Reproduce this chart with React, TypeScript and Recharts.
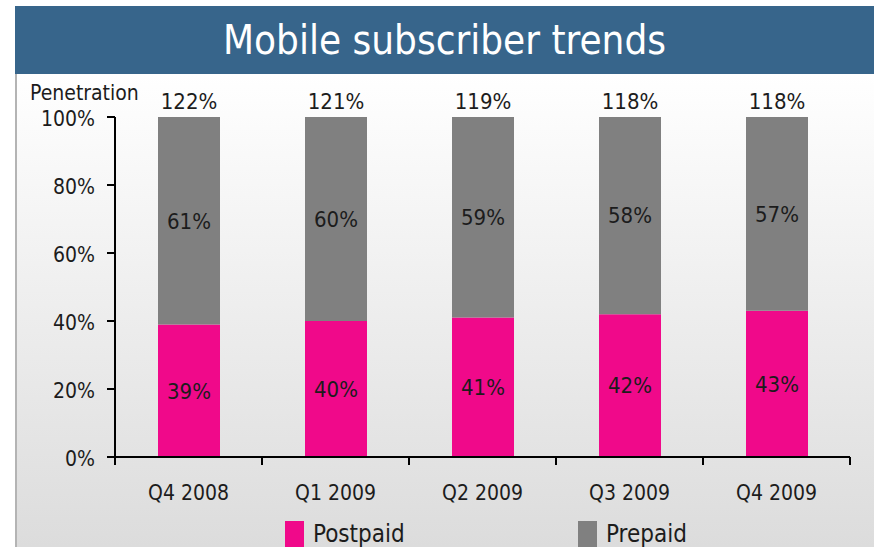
import { BarChart, Bar, XAxis, YAxis, LabelList } from "recharts";

const quarters = ["Q4 2008", "Q1 2009", "Q2 2009", "Q3 2009", "Q4 2009"];
const postpaid = [39, 40, 41, 42, 43];
const prepaid = [61, 60, 59, 58, 57];
const penetration = [122, 121, 119, 118, 118];
const yTicks = [0, 20, 40, 60, 80, 100];

const FONT = '"DejaVu Sans Condensed", "DejaVu Sans", sans-serif';
const PINK = "#f0098a";
const GREY = "#808080";
const INK = "#1c1c1c";

const rows = quarters.map((q, i) => ({
  quarter: q,
  postpaid: postpaid[i],
  prepaid: prepaid[i],
  penetration: penetration[i],
}));

// category label at centre, tick marks on the band edges
const QuarterTick = (props: any) => {
  const { x, y, payload, index } = props;
  const band = 147;
  const last = index === quarters.length - 1;
  return (
    <g>
      <line x1={x - band / 2} y1={y - 8} x2={x - band / 2} y2={y} stroke="#000" strokeWidth={2} />
      {last && <line x1={x + band / 2} y1={y - 8} x2={x + band / 2} y2={y} stroke="#000" strokeWidth={2} />}
      <text x={x} y={y + 35} textAnchor="middle" fontFamily={FONT} fontSize={21} fill={INK}>
        {payload.value}
      </text>
    </g>
  );
};

const PctTick = (props: any) => {
  const { x, y, payload } = props;
  return (
    <text x={x} y={y + 9} textAnchor="end" fontFamily={FONT} fontSize={21} fill={INK}>
      {payload.value}%
    </text>
  );
};

const TopLabel = (props: any) => {
  const { x, y, width, index } = props;
  return (
    <text x={x + width / 2} y={y - 8} textAnchor="middle" fontFamily={FONT} fontSize={22} fill={INK}>
      {penetration[index]}%
    </text>
  );
};

const series: [string, string][] = [["Postpaid", PINK], ["Prepaid", GREY]];

export default function App() {
  return (
    <div style={{ position: "absolute", left: 0, top: 0, width: 874, height: 547, background: "#fff", overflow: "hidden" }}>
      <div
        style={{
          position: "absolute", left: 15, top: 74, width: 859, height: 473,
          background: "linear-gradient(#ffffff, #dcdcdc)",
          borderLeft: "2px solid #b4b4b4",
        }}
      />
      <div
        style={{
          position: "absolute", left: 15, top: 6, width: 859, height: 68,
          background: "#37658b", color: "#fff", fontFamily: FONT, fontSize: 40,
          display: "flex", alignItems: "center", justifyContent: "center",
        }}
      >
        Mobile subscriber trends
      </div>
      <div style={{ position: "absolute", left: 30, top: 81, fontFamily: FONT, fontSize: 21, color: INK }}>
        Penetration
      </div>
      <div style={{ position: "absolute", left: 0, top: 0 }}>
        <BarChart
          width={874}
          height={547}
          data={rows}
          barSize={62}
          margin={{ top: 117, right: 24, bottom: 0, left: 15 }}
        >
          <XAxis
            dataKey="quarter"
            axisLine={{ stroke: "#000", strokeWidth: 2 }}
            tickLine={false}
            tick={<QuarterTick />}
            interval={0}
            height={90}
          />
          <YAxis
            domain={[0, 100]}
            ticks={yTicks}
            width={100}
            axisLine={{ stroke: "#000", strokeWidth: 2 }}
            tickLine={{ stroke: "#000", strokeWidth: 2 }}
            tickSize={8}
            tickMargin={12}
            tick={<PctTick />}
          />
          <Bar dataKey="postpaid" name="Postpaid" stackId="s" fill={PINK} isAnimationActive={false}>
            <LabelList
              dataKey="postpaid"
              position="center"
              formatter={(v: any) => `${v}%`}
              style={{ fill: INK, fontSize: 22, fontFamily: FONT }}
            />
          </Bar>
          <Bar dataKey="prepaid" name="Prepaid" stackId="s" fill={GREY} isAnimationActive={false}>
            <LabelList
              dataKey="prepaid"
              position="center"
              formatter={(v: any) => `${v}%`}
              style={{ fill: INK, fontSize: 22, fontFamily: FONT }}
            />
            <LabelList dataKey="penetration" content={<TopLabel />} />
          </Bar>
        </BarChart>
      </div>
      <div style={{ position: "absolute", left: 285, top: 520, display: "flex", fontFamily: FONT, fontSize: 24, color: INK }}>
        {series.map(([name, c]) => (
          <div key={name} style={{ width: 293, display: "flex", alignItems: "center" }}>
            <span style={{ width: 19, height: 26, background: c, marginRight: 9 }} />
            <span>{name}</span>
          </div>
        ))}
      </div>
    </div>
  );
}
